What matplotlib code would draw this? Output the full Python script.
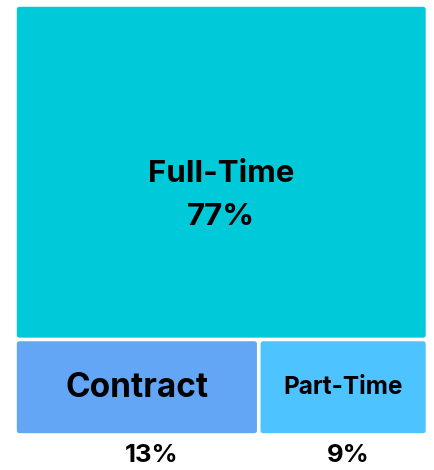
import matplotlib
matplotlib.use("Agg")
import matplotlib.pyplot as plt
from matplotlib.patches import FancyBboxPatch

categories = ["Full-Time", "Contract", "Part-Time"]
values = [77, 13, 9]
pct_labels = ["77%", "13%", "9%"]
colors = ["#00C9DA", "#64A6F6", "#4DC3FF"]

plt.rcParams['font.family'] = ['Inter', 'DejaVu Sans']

W, H = 434, 470
fig = plt.figure(figsize=(W / 100, H / 100), dpi=100)
ax = fig.add_axes([0, 0, 1, 1])
ax.set_xlim(0, W)
ax.set_ylim(H, 0)
ax.axis("off")

# treemap area
x0, y0, x1, y1 = 15, 5, 427.5, 435
gap = 1.8
total = sum(values)
top_h = (y1 - y0) * values[0] / total
rects = [(x0, y0, x1 - x0, top_h)]
rest = sum(values[1:])
cx = x0
for v in values[1:]:
    w = (x1 - x0) * v / rest
    rects.append((cx, y0 + top_h, w, (y1 - y0) - top_h))
    cx += w

for (rx, ry, rw, rh), c in zip(rects, colors):
    p = FancyBboxPatch((rx + gap, ry + gap), rw - 2 * gap, rh - 2 * gap,
                       boxstyle="round,pad=0,rounding_size=2.5",
                       facecolor=c, edgecolor="none")
    ax.add_patch(p)

# Full-Time labels
rx, ry, rw, rh = rects[0]
ax.text(rx + rw / 2, 174, categories[0], ha="center", va="center",
        fontsize=22.5, fontweight="bold", color="black")
ax.text(rx + rw / 2, 217, pct_labels[0], ha="center", va="center",
        fontsize=22.5, fontweight="bold", color="black")

# Contract
rx, ry, rw, rh = rects[1]
ax.text(rx + rw / 2, 388, categories[1], ha="center", va="center",
        fontsize=24, fontweight="bold", color="black")
ax.text(rx + rw / 2 + 15, 456, pct_labels[1], ha="center", va="center",
        fontsize=18.5, fontweight="bold", color="black")

# Part-Time
rx, ry, rw, rh = rects[2]
ax.text(rx + rw / 2, 387, categories[2], ha="center", va="center",
        fontsize=17.5, fontweight="bold", color="black")
ax.text(rx + rw / 2 + 5, 456, pct_labels[2], ha="center", va="center",
        fontsize=18.5, fontweight="bold", color="black")

fig.savefig("out.png", dpi=100, facecolor="white")
